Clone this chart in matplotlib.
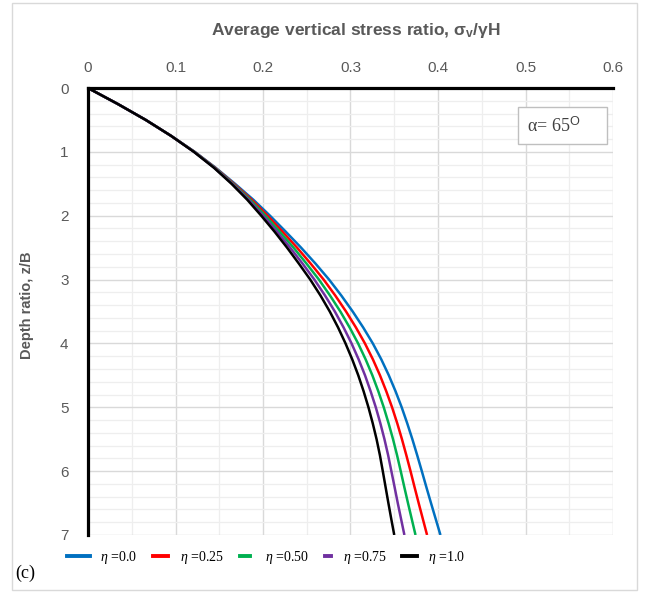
import matplotlib
matplotlib.use("Agg")
import matplotlib.pyplot as plt
from matplotlib.patches import Rectangle
from matplotlib.lines import Line2D

plt.rcParams['font.family'] = ['Liberation Sans', 'DejaVu Sans']
plt.rcParams['mathtext.fontset'] = 'custom'
plt.rcParams['mathtext.rm'] = 'Liberation Sans'
plt.rcParams['mathtext.bf'] = 'Liberation Sans:bold'
plt.rcParams['mathtext.it'] = 'Liberation Serif:italic'

# Depth ratio z/B
depth = [0, 0.25, 0.5, 0.75, 1, 1.25, 1.5, 1.75, 2, 2.25, 2.5, 2.75, 3, 3.25, 3.5,
         3.75, 4, 4.25, 4.5, 4.75, 5, 5.25, 5.5, 5.75, 6, 6.25, 6.5, 6.75, 7]
# Average vertical stress ratio for each eta
eta_00 = [0, .034, .066, .095, .122, .146, .168, .189, .208, .226, .2435, .2600, .2755, .2895, .3025,
          .3145, .3255, .3352, .3438, .3515, .3585, .3648, .3707, .3762, .3815, .3867, .3920, .3974, .4028]
eta_25 = [0, .034, .066, .095, .1217, .1454, .1668, .1870, .2051, .2223, .2389, .2545, .2693, .2826, .2949,
          .3062, .3165, .3256, .3337, .3409, .3475, .3534, .3588, .3638, .3686, .3732, .3779, .3827, .3875]
eta_50 = [0, .034, .066, .095, .1215, .1449, .1658, .1852, .2026, .2191, .2349, .2497, .2639, .2766, .2884,
          .2990, .3087, .3173, .3250, .3318, .3380, .3435, .3486, .3532, .3574, .3615, .3657, .3700, .3743]
eta_75 = [0, .034, .066, .095, .1212, .1444, .1649, .1835, .2002, .2160, .2310, .2452, .2587, .2709, .2821,
          .2921, .3012, .3093, .3166, .3230, .3289, .3341, .3388, .3430, .3467, .3504, .3540, .3578, .3616]
eta_10 = [0, .034, .066, .095, .121, .144, .164, .182, .198, .2132, .2275, .2410, .2540, .2657, .2763,
          .2858, .2943, .3020, .3089, .3150, .3205, .3254, .3298, .3336, .3369, .3401, .3433, .3466, .3500]

series = [eta_00, eta_25, eta_50, eta_75, eta_10]
labels = ['=0.0', '=0.25', '=0.50', '=0.75', '=1.0']
colors = ['#0070C0', '#FF0000', '#00B050', '#7030A0', '#000000']

x_ticks = [0, 0.1, 0.2, 0.3, 0.4, 0.5, 0.6]
x_tick_labels = ['0', '0.1', '0.2', '0.3', '0.4', '0.5', '0.6']
y_ticks = [0, 1, 2, 3, 4, 5, 6, 7]

W, H = 645, 592
fig = plt.figure(figsize=(W / 100, H / 100), dpi=100)
fig.patch.set_facecolor('white')


def fx(px):
    return px / W


def fy(py):
    return 1 - py / H


# outer light frame
fig.patches.append(Rectangle((fx(12), fy(590)), (637 - 12) / W, (590 - 3) / H,
                             transform=fig.transFigure, fill=False,
                             edgecolor='#d9d9d9', linewidth=1.0))

ax = fig.add_axes([fx(88), fy(535), (613 - 88) / W, (535 - 88) / H])
ax.set_xlim(0, 0.6)
ax.set_ylim(7, 0)

ax.set_xticks(x_ticks)
ax.set_xticklabels(x_tick_labels)
ax.set_yticks(y_ticks)
ax.set_xticks([i * 0.05 for i in range(13)], minor=True)
ax.set_yticks([i * 0.2 for i in range(36)], minor=True)
ax.xaxis.tick_top()
ax.tick_params(which='both', length=0)
ax.tick_params(axis='x', pad=9, labelsize=11, colors='#595959')
ax.tick_params(axis='y', pad=14, labelsize=11, colors='#595959')

ax.grid(which='major', color='#d9d9d9', linewidth=1.0)
ax.grid(which='minor', color='#eeeeee', linewidth=0.9)
ax.set_axisbelow(True)

for s in ['bottom', 'right']:
    ax.spines[s].set_visible(False)
for s in ['top', 'left']:
    ax.spines[s].set_linewidth(2.3)
    ax.spines[s].set_color('black')
    ax.spines[s].set_zorder(4)

for vals, c in zip(series, colors):
    ax.plot(vals, depth, color=c, linewidth=1.8, solid_capstyle='butt',
            solid_joinstyle='round', zorder=3)

# axis titles
fig.text(fx(356), fy(31), r'Average vertical stress ratio, σ$_{\mathbf{v}}$/γH',
         fontsize=12.5, fontweight='bold', color='#595959', ha='center', va='center')
fig.text(fx(27), fy(305), 'Depth ratio, z/B', fontsize=10.5, fontweight='bold',
         color='#595959', ha='center', va='center', rotation=90)

# annotation box
ax.add_patch(Rectangle((0.4914, 0.297), 0.5931 - 0.4914, 0.876 - 0.297,
                       facecolor='white', edgecolor='#bfbfbf', linewidth=1.0, zorder=5))
ax.text(0.5017, 0.60, r'α= 65$^{\mathrm{O}}$', fontsize=13, family='Liberation Serif',
        color='#404040', va='center', ha='left', zorder=6)

# legend (drawn manually to mimic the original spacing)
leg_line_x = [(67, 90), (153, 168), (240, 250), (325, 331), (402, 417)]
leg_text_x = [100, 180, 265, 343, 428]
for (x0, x1), tx, c, l in zip(leg_line_x, leg_text_x, colors, labels):
    fig.add_artist(Line2D([fx(x0), fx(x1)], [fy(556), fy(556)], color=c,
                          linewidth=2.8, transform=fig.transFigure))
    fig.text(fx(tx), fy(557), r'$\eta$ ' + l, fontsize=10, family='Liberation Serif',
             color='black', ha='left', va='center')

fig.text(fx(15), fy(573), '(c)', fontsize=13, family='Liberation Serif',
         color='black', va='center', ha='left')

fig.savefig('out.png', dpi=100)
